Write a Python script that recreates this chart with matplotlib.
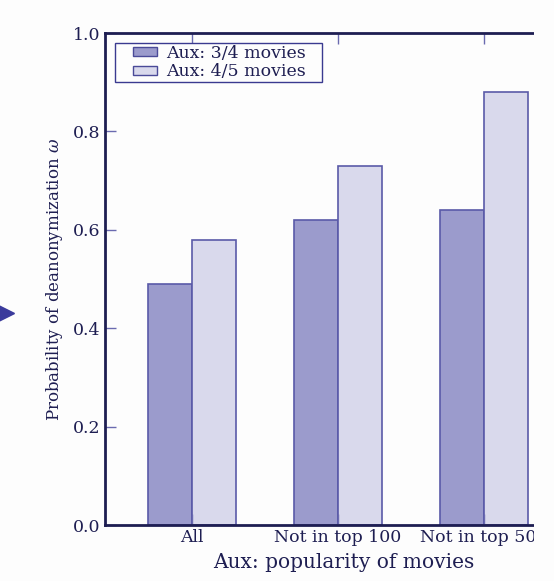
import matplotlib
matplotlib.use("Agg")
import matplotlib.pyplot as plt
import numpy as np
from matplotlib.patches import Rectangle
from matplotlib.legend_handler import HandlerPatch

categories = ["All", "Not in top 100", "Not in top 500"]
series_names = ["Aux: 3/4 movies", "Aux: 4/5 movies"]
aux34 = [0.49, 0.62, 0.64]
aux45 = [0.58, 0.73, 0.88]
yticks = [0.0, 0.2, 0.4, 0.6, 0.8, 1.0]

navy = "#1e1e52"
edge = "#5a5aa8"
dark = "#9b9bcc"
light = "#d9d9ec"
bg = "#fdfdfd"

plt.rcParams["font.family"] = ["DejaVu Serif"]
plt.rcParams["mathtext.fontset"] = "dejavuserif"

fig = plt.figure(figsize=(5.54, 5.81), dpi=100, facecolor=bg)
# axes extends past the cropped right edge of the original slide
ax = fig.add_axes([105/554, 56/581, 478/554, 492/581])
ax.set_facecolor(bg)

x = np.arange(len(categories))
w = 0.3
ax.bar(x - w/2, aux34, w, color=dark, edgecolor=edge, linewidth=1.2)
ax.bar(x + w/2, aux45, w, color=light, edgecolor=edge, linewidth=1.2)

ax.set_xlim(-0.596, 2.678)
ax.set_ylim(0, 1.0)
ax.set_xticks(x)
ax.set_xticklabels(categories)
ax.set_yticks(yticks)
ax.set_yticklabels([f"{v:.1f}" for v in yticks])

ax.tick_params(axis="both", direction="in", length=8, width=1, color="#6a6ab0",
               labelcolor=navy, labelsize=12.5, pad=3)
ax.tick_params(axis="x", top=True, bottom=True)
ax.tick_params(axis="y", left=True, right=False)

for s in ["left", "bottom", "top"]:
    ax.spines[s].set_color(navy)
    ax.spines[s].set_linewidth(2)
ax.spines["right"].set_visible(False)

ax.set_xlabel("Aux: popularity of movies", fontsize=14.5, color=navy, labelpad=5)
ax.set_ylabel(r"Probability of deanonymization $\omega$", fontsize=12, color=navy, labelpad=6)


def small_rect(legend, orig_handle, xdescent, ydescent, width, height, fontsize):
    rw = width * 0.6
    rh = height * 0.8
    return Rectangle((-xdescent + width - rw, -ydescent + (height - rh) / 2), rw, rh)


handles = [Rectangle((0, 0), 1, 1, facecolor=dark, edgecolor="#4a4a98", linewidth=1),
           Rectangle((0, 0), 1, 1, facecolor=light, edgecolor="#4a4a98", linewidth=1)]

leg = ax.legend(handles, series_names, loc="upper left", fontsize=12.5, frameon=True,
                fancybox=False,
                bbox_to_anchor=(115/554, 1 - 82/581, 207/554, 39/581),
                bbox_transform=fig.transFigure, mode="expand",
                borderpad=0.1, labelspacing=0.1, handlelength=2.3, handleheight=0.65,
                handletextpad=0.55, borderaxespad=0,
                handler_map={Rectangle: HandlerPatch(patch_func=small_rect)})
leg.get_frame().set_edgecolor("#3a3a90")
leg.get_frame().set_linewidth(1)
leg.get_frame().set_facecolor(bg)
leg.get_frame().set_alpha(1)
for t in leg.get_texts():
    t.set_color(navy)

# clipped right edge of the original slide
fig.add_artist(Rectangle((534/554, 0), 20/554, 1, transform=fig.transFigure,
                         facecolor=bg, edgecolor="none", zorder=10))
# slide pointer arrow on the left
fig.add_artist(plt.Line2D([6/554], [1 - 313/581], transform=fig.transFigure,
                          marker=">", markersize=11, color="#3b3b9c", linestyle="none"))

fig.savefig("out.png", dpi=100, facecolor=fig.get_facecolor())
